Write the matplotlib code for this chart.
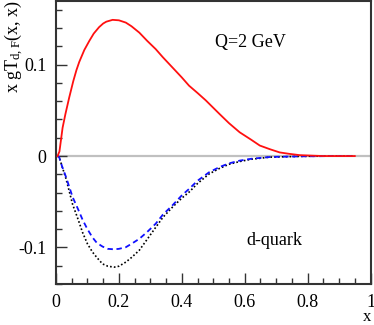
import matplotlib
matplotlib.use("Agg")
import matplotlib.pyplot as plt
from matplotlib.ticker import MultipleLocator, FuncFormatter

plt.rcParams['font.family'] = ['Liberation Serif', 'DejaVu Serif']
plt.rcParams['mathtext.fontset'] = 'custom'
plt.rcParams['mathtext.rm'] = 'Liberation Serif'
plt.rcParams['mathtext.it'] = 'Liberation Serif'

# values
x_red = [0.005, 0.011, 0.021, 0.03, 0.042, 0.055, 0.065, 0.074, 0.09, 0.106,
         0.12, 0.137, 0.15, 0.16, 0.18, 0.20, 0.222, 0.24, 0.265, 0.29, 0.317,
         0.34, 0.37, 0.40, 0.423, 0.45, 0.476, 0.52, 0.55, 0.584, 0.62, 0.648,
         0.68, 0.711, 0.74, 0.775, 0.85, 0.95]
y_red = [0.0, 0.005, 0.031, 0.046, 0.064, 0.082, 0.094, 0.103, 0.116, 0.126,
         0.134, 0.141, 0.145, 0.147, 0.149, 0.1485, 0.146, 0.142, 0.135, 0.126,
         0.117, 0.108, 0.097, 0.086, 0.077, 0.069, 0.061, 0.046, 0.036, 0.026,
         0.018, 0.0115, 0.0075, 0.004, 0.0025, 0.001, 0.0, 0.0]

x_neg = [0.005, 0.01, 0.02, 0.032, 0.053, 0.07, 0.085, 0.1, 0.116, 0.13, 0.148,
         0.165, 0.185, 0.2, 0.222, 0.24, 0.265, 0.29, 0.317, 0.34, 0.37, 0.40,
         0.423, 0.45, 0.487, 0.52, 0.55, 0.584, 0.62, 0.68, 0.78, 0.88, 0.95]
y_blue = [0.0, -0.001, -0.012, -0.023, -0.045, -0.058, -0.070, -0.080, -0.089,
          -0.095, -0.099, -0.1015, -0.102, -0.1015, -0.0997, -0.096, -0.0905,
          -0.083, -0.074, -0.064, -0.054, -0.043, -0.036, -0.027, -0.0177,
          -0.012, -0.008, -0.005, -0.003, -0.001, -0.0003, 0.0, 0.0]
y_black = [0.0, -0.001, -0.012, -0.025, -0.053, -0.069, -0.084, -0.096, -0.105,
           -0.111, -0.118, -0.1205, -0.1215, -0.1205, -0.116, -0.111, -0.103,
           -0.091, -0.078, -0.067, -0.056, -0.046, -0.0395, -0.030, -0.0195,
           -0.0135, -0.009, -0.006, -0.0035, -0.0012, -0.0003, 0.0, 0.0]

fig = plt.figure(figsize=(3.74, 3.25), dpi=100)
ax = fig.add_axes([0.1497, 0.126, 0.841, 0.872])

ax.axhline(0, color='#c0c0c0', lw=1.6, zorder=1)
ax.plot(x_neg, y_black, color='black', lw=1.2, linestyle=(0, (1, 1.3)), zorder=2)
ax.plot(x_neg, y_blue, color='#1010ff', lw=1.3, linestyle=(0, (3, 2)), zorder=3)
ax.plot(x_red, y_red, color='#ff1010', lw=1.3, zorder=4)

ax.set_xlim(0, 1)
ax.set_ylim(-0.14, 0.17)

ax.xaxis.set_major_locator(MultipleLocator(0.2))
ax.xaxis.set_minor_locator(MultipleLocator(0.05))
ax.yaxis.set_major_locator(MultipleLocator(0.1))
ax.yaxis.set_minor_locator(MultipleLocator(0.02))
ax.xaxis.set_major_formatter(FuncFormatter(lambda v, p: '%g' % round(v, 3)))
ax.yaxis.set_major_formatter(FuncFormatter(lambda v, p: '%g' % round(v, 3)))

ax.tick_params(which='both', direction='in', top=False, right=False,
               colors='#333333', labelcolor='black', labelsize=13, width=1)
ax.tick_params(which='major', length=8)
ax.tick_params(axis='x', which='major', pad=7)
ax.tick_params(axis='y', which='major', pad=7)
ax.tick_params(which='minor', length=4.5)
for s in ax.spines.values():
    s.set_linewidth(1.5)
    s.set_color('#333333')

fig.text(0.035, 0.998, r'x gT$_{\mathrm{d,F}}$(x, x)', rotation=90,
         ha='center', va='top', fontsize=13)
fig.text(0.992, 0.0, 'x', ha='right', va='bottom', fontsize=12)
ax.text(0.505, 0.124, 'Q=2 GeV', fontsize=13, va='center')
ax.text(0.606, -0.092, 'd-quark', fontsize=13, va='center')

fig.savefig('out.png', dpi=100)
